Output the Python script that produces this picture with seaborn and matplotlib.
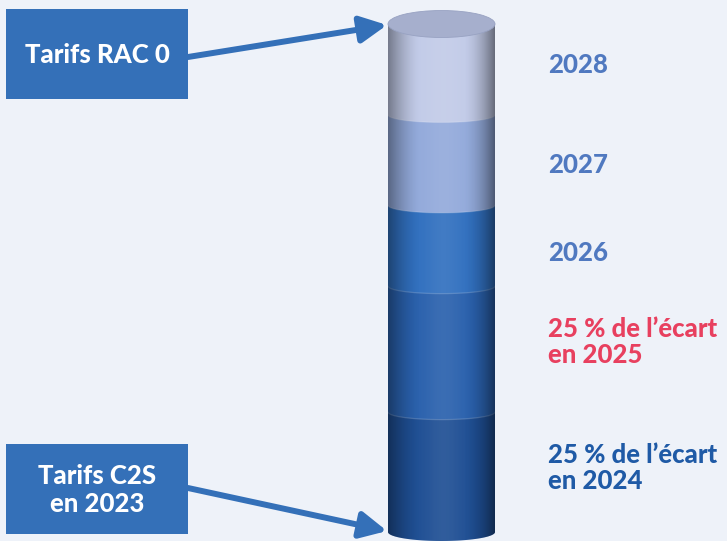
import numpy as np
import pandas as pd
import matplotlib
matplotlib.use("Agg")
import matplotlib.pyplot as plt
import matplotlib.transforms as mtransforms
from matplotlib.patches import Polygon, Ellipse, Rectangle
import seaborn as sns

# ---------------- data ----------------
years = ["2024", "2025", "2026", "2027", "2028"]
shares = [23.6, 24.8, 15.9, 17.8, 17.9]          # share of the pile (%)
segment_colors = ["#1f4f94", "#2a61ad", "#3170bf", "#93aadb", "#c2cbe8"]
cap_color = "#a6afcd"
label_texts = ["25 % de l’écart\nen 2024", "25 % de l’écart\nen 2025", "2026", "2027", "2028"]
label_colors = ["#1f5aa6", "#e8405f", "#5079c0", "#5079c0", "#5079c0"]
box_texts = ["Tarifs RAC 0", "Tarifs C2S\nen 2023"]

BG = "#eef2f9"
BOX = "#3470b8"

sns.set_theme(style="white")
plt.rcParams["font.family"] = ["Lato", "DejaVu Sans"]

W, H = 727, 541
fig = plt.figure(figsize=(W / 100, H / 100), dpi=100, facecolor=BG)
ax = fig.add_axes([0, 0, 1, 1])
ax.set_facecolor(BG)

cum = np.cumsum(shares)
total = cum[-1]
df = pd.DataFrame({"pile": ["pile"] * len(years), "top": cum, "year": years})
sns.barplot(data=df, x="pile", y="top", hue="year", hue_order=years[::-1],
            palette=dict(zip(years, segment_colors)), dodge=False, width=0.8,
            saturation=1, linewidth=0, edgecolor="none", legend=False, ax=ax)

half_w = 0.4
px_per_x = 107 / 0.8
px_per_y = (532 - 24) / total
xlim = (-441.5 / px_per_x, (W - 441.5) / px_per_x)
ylim = ((532 - H) / px_per_y, 532 / px_per_y)

t = np.linspace(np.pi, 2 * np.pi, 100)
arc_h = 15 / px_per_y       # full ellipse height for inner boundaries
base_h = 18 / px_per_y      # bottom ellipse
cap_h = 27 / px_per_y       # top cap

bottom_pts = np.column_stack([half_w * np.cos(t), base_h / 2 * np.sin(t)])
ax.add_patch(Polygon(bottom_pts, closed=True, facecolor=segment_colors[0],
                     edgecolor="none", zorder=3))
for i in range(1, len(years)):
    y0 = cum[i - 1]
    pts = np.column_stack([half_w * np.cos(t), y0 + arc_h / 2 * np.sin(t)])
    poly = np.vstack([pts, [[half_w, y0 + 0.5], [-half_w, y0 + 0.5]]])
    ax.add_patch(Polygon(poly, closed=True, facecolor=segment_colors[i],
                         edgecolor="none", zorder=3))
    ax.plot(pts[:, 0], pts[:, 1], color="white", alpha=0.18, lw=0.9, zorder=3.5)

# cylindrical shading clipped to body
body = np.vstack([[[-half_w, total]], bottom_pts, [[half_w, total]]])
clip = Polygon(body, closed=True, transform=ax.transData, facecolor="none", edgecolor="none")
ax.add_patch(clip)
u = np.linspace(0, 1, 300)
dark = 0.40 * np.clip(1 - u / 0.3, 0, 1) ** 1.5 + 0.48 * np.clip((u - 0.7) / 0.3, 0, 1) ** 1.8
light = 0.08 * np.exp(-((u - 0.52) / 0.18) ** 2)
dark_img = np.zeros((2, u.size, 4)); dark_img[..., 3] = dark
light_img = np.ones((2, u.size, 4)); light_img[..., 3] = light
ext = [-half_w, half_w, -base_h, total]
for img in (dark_img, light_img):
    im = ax.imshow(img, extent=ext, aspect="auto", interpolation="bilinear", zorder=4)
    im.set_clip_path(clip)

# top cap
ax.add_patch(Ellipse((0, total), 2 * half_w, cap_h, facecolor=cap_color,
                     edgecolor="#98a2c2", linewidth=0.6, zorder=5))
ax.set_xlim(*xlim)
ax.set_ylim(*ylim)
ax.set_axis_off()

# right-hand labels
label_offsets_px = [-4, -7, 7, 5, -4]
tr = mtransforms.blended_transform_factory(ax.transAxes, ax.transData)
lows = np.concatenate([[0], cum[:-1]])
for lo, hi, txt, col, off in zip(lows, cum, label_texts, label_colors, label_offsets_px):
    ax.text(548 / W, (lo + hi) / 2 - off / px_per_y, txt, transform=tr, color=col,
            fontsize=18.5, fontweight="black", ha="left", va="center", linespacing=1.08)

# overlay in image pixel coordinates for boxes and arrows
ov = fig.add_axes([0, 0, 1, 1], facecolor="none")
ov.set_xlim(0, W)
ov.set_ylim(H, 0)
ov.set_axis_off()
boxes = [(6, 9, 182, 90), (6, 444, 182, 90)]
for (bx, by, bw, bh), txt in zip(boxes, box_texts):
    ov.add_patch(Rectangle((bx, by), bw, bh, facecolor=BOX, edgecolor="none"))
    ov.text(bx + bw / 2, by + bh / 2 + 1, txt, color="white", fontsize=18.5,
            fontweight="black", ha="center", va="center", linespacing=1.2)

arrows = [((188, 57), (387, 25)), ((188, 488), (387, 531))]
for start, end in arrows:
    ov.annotate("", xy=end, xytext=start, xycoords="data", textcoords="data",
                arrowprops=dict(arrowstyle="-|>,head_length=1.0,head_width=0.5",
                                mutation_scale=16, lw=4.3, color=BOX,
                                shrinkA=0, shrinkB=0))

fig.savefig("out.png", dpi=100, facecolor=BG)
